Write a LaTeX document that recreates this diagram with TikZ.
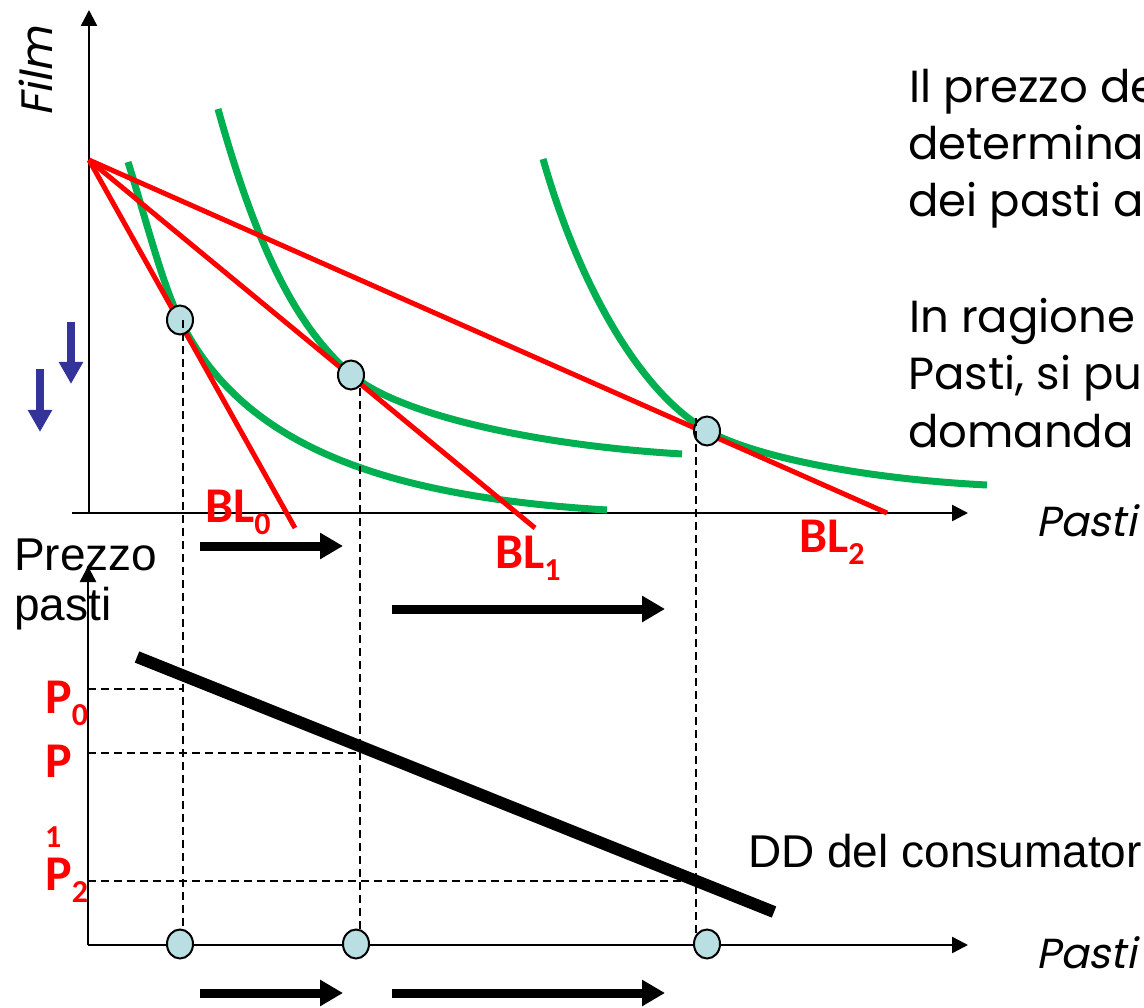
\documentclass[tikz,border=0pt]{standalone}
\usepackage{fontspec}
\usetikzlibrary{arrows.meta,shapes.geometric}
\newfontfamily\gothic{Poppins}
\newfontfamily\gothicit[FakeSlant=0.2]{Poppins}
\newfontfamily\arialf{Liberation Sans}
\newfontfamily\calib{Carlito}
\definecolor{igreen}{RGB}{0,176,80}
\definecolor{ptfill}{RGB}{185,223,226}
\definecolor{darrow}{RGB}{51,51,153}
\newcommand\mysub[1]{\raisebox{-12pt}{\fontsize{32}{32}\selectfont #1}}
\begin{document}
\begin{tikzpicture}[x=1pt,y=-1pt,
  axis/.style={line width=2.5pt,-{Triangle[length=16pt,width=16pt]}},
  budget/.style={red,line width=5pt},
  indiff/.style={igreen,line width=7pt},
  pt/.style={ellipse,draw,line width=2pt,fill=ptfill,minimum width=26pt,minimum height=29pt,inner sep=0pt},
  guide/.style={line width=2pt,dash pattern=on 8pt off 5pt},
  move/.style={line width=9pt,-{Triangle[length=23pt,width=25pt]}},
  down/.style={darrow,line width=8pt,-{Triangle[length=22pt,width=23pt]}},
  txt/.style={inner sep=0pt,anchor=base west},
  gtxt/.style={txt,font=\gothic\fontsize{45}{57}\selectfont},
  itxt/.style={txt,font=\gothicit\fontsize{42}{57}\selectfont},
  atxt/.style={txt,font=\arialf\fontsize{46}{55}\selectfont},
  bltxt/.style={txt,red,font=\calib\bfseries\fontsize{50}{60}\selectfont},
  demand/.style={line width=12pt}
]
\useasboundingbox (0,0) rectangle (1144,1008);
\clip (0,0) rectangle (1144,1008);

% top axes
\coordinate (O1) at (89,513);
\coordinate (Y1) at (89,10);
\coordinate (X1s) at (72,513);
\coordinate (X1) at (968,513);
\draw[axis] (O1) -- (Y1);
\draw[axis] (X1s) -- (X1);

% bottom axes
\coordinate (O2) at (88,945);
\coordinate (Y2) at (88,566);
\coordinate (X2) at (968,945);
\draw[axis] (O2) -- (Y2);
\draw[axis] (O2) -- (X2);

% indifference curves
\draw[indiff] (128,162)
  .. controls (145.3,217.4) and (162.7,285.4) .. (180,320)
  .. controls (239.3,438.6) and (367.4,495.6) .. (607,510);
\draw[indiff] (218,109)
  .. controls (256.7,248.4) and (296.9,328.2) .. (352,375)
  .. controls (397,413.2) and (528.9,444.8) .. (682,454);
\draw[indiff] (543,159)
  .. controls (581.1,292.3) and (643.8,395.7) .. (708,431)
  .. controls (756,457.5) and (867.7,479.1) .. (987,485);

% budget lines
\coordinate (A) at (89,160);
\coordinate (B0) at (295,528);
\coordinate (B1) at (535,528);
\coordinate (B2) at (887,513);
\draw[budget] (A) -- (B0);
\draw[budget] (A) -- (B1);
\draw[budget] (A) -- (B2);

% tangency points
\node[pt] (t0) at (180,320) {};
\node[pt] (t1) at (351,375) {};
\node[pt] (t2) at (707,431) {};

% guides
\coordinate (g0a) at (183,320);
\coordinate (g0b) at (183,944);
\coordinate (g1a) at (360,388);
\coordinate (g1b) at (360,944);
\coordinate (g2a) at (696,418);
\coordinate (g2b) at (696,944);
\draw[guide] (g0a) -- (g0b);
\draw[guide] (g1a) -- (g1b);
\draw[guide] (g2a) -- (g2b);
\coordinate (h0a) at (88,689);
\coordinate (h0b) at (183,689);
\coordinate (h1a) at (88,753);
\coordinate (h1b) at (360,753);
\coordinate (h2a) at (88,881);
\coordinate (h2b) at (696,881);
\draw[guide] (h0a) -- (h0b);
\draw[guide] (h1a) -- (h1b);
\draw[guide] (h2a) -- (h2b);

% demand
\coordinate (D1) at (137,657);
\coordinate (D2) at (774,912);
\draw[demand] (D1) -- (D2);

% bottom points
\node[pt] (b0) at (180,944) {};
\node[pt] (b1) at (356,944) {};
\node[pt] (b2) at (707,944) {};

% movement arrows
\coordinate (m1a) at (200,546); \coordinate (m1b) at (343,546);
\coordinate (m2a) at (392,609); \coordinate (m2b) at (665,609);
\coordinate (m3a) at (200,993); \coordinate (m3b) at (343,993);
\coordinate (m4a) at (392,993); \coordinate (m4b) at (665,993);
\draw[move] (m1a) -- (m1b);
\draw[move] (m2a) -- (m2b);
\draw[move] (m3a) -- (m3b);
\draw[move] (m4a) -- (m4b);

% blue down arrows
\coordinate (d1a) at (71,322); \coordinate (d1b) at (71,384);
\coordinate (d2a) at (40,369); \coordinate (d2b) at (40,432);
\draw[down] (d1a) -- (d1b);
\draw[down] (d2a) -- (d2b);

% labels
\node[rotate=90,anchor=base,inner sep=0pt,font=\gothicit\fontsize{44}{57}\selectfont] (film) at (52,72) {Film};
\node[itxt] (pasti1) at (1036,536) {Pasti};
\node[itxt] (pasti2) at (1036,968) {Pasti};

\node[gtxt] (l1) at (909,103) {Il prezzo de};
\node[gtxt] (l2) at (908,160) {determina};
\node[gtxt] (l3) at (908,217) {dei pasti a};
\node[gtxt] (l4) at (909,333) {In ragione};
\node[gtxt] (l5) at (908,390) {Pasti, si pu};
\node[gtxt] (l6) at (908,447) {domanda};

\node[atxt] (prz) at (14,570) {Prezzo};
\node[atxt] (pst) at (14,620) {pasti};
\node[atxt] (dd) at (748,867) {DD del consumator};

\node[bltxt] (bl0) at (205,522) {BL\mysub{0}};
\node[bltxt] (bl1) at (495,568) {BL\mysub{1}};
\node[bltxt] (bl2) at (799,552) {BL\mysub{2}};

\node[bltxt] (p0) at (45,713) {P\mysub{0}};
\node[bltxt] (p1) at (45,777) {P};
\node[bltxt,font=\calib\bfseries\fontsize{32}{32}\selectfont] (p1s) at (45,847) {1};
\node[bltxt] (p2) at (45,890) {P\mysub{2}};
\end{tikzpicture}
\end{document}
